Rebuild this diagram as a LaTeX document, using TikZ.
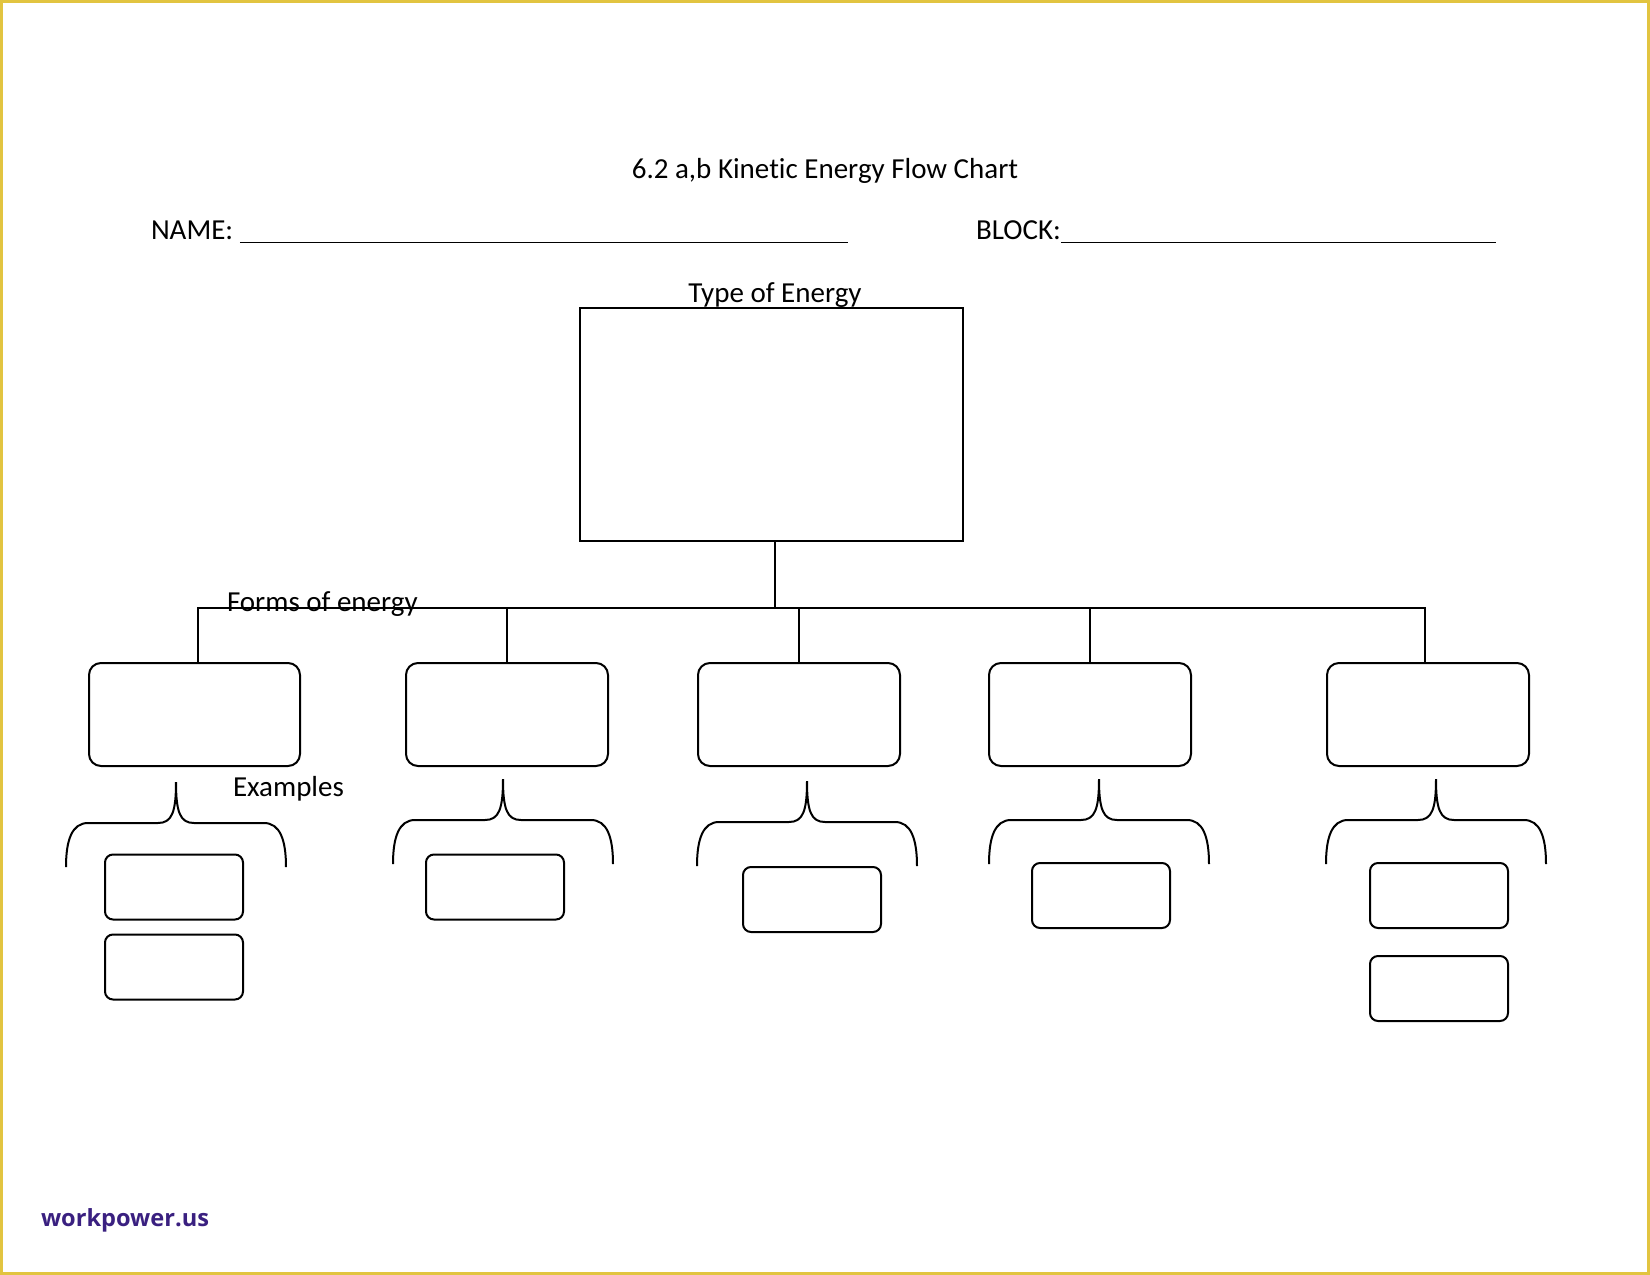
\documentclass[tikz,border=0pt]{standalone}
\usepackage{fontspec}
\setmainfont{Carlito}[Ligatures=NoCommon]
\newfontfamily\markfont{Open Sans}
\usetikzlibrary{positioning}
\definecolor{framegold}{RGB}{226, 196, 64}
\definecolor{markpurple}{RGB}{58, 32, 128}

\begin{document}
\begin{tikzpicture}[
    x=0.5pt, y=-0.5pt,
    line width=1pt,
    txt/.style={inner sep=0pt, font=\fontsize{14.5}{17}\selectfont},
    topbox/.style={rectangle, draw, line width=1.1pt, minimum width=191.5pt, minimum height=116.5pt},
    formbox/.style={rectangle, draw, rounded corners=6pt, minimum width=101pt, minimum height=51.5pt},
    exbox/.style={rectangle, draw, rounded corners=4pt, minimum width=69pt, minimum height=32.5pt},
    exbrace/.pic={
        \draw (-110,85) .. controls (-110,58) and (-104,41) .. (-88,41) -- (-18,41)
              .. controls (-4,41) and (0,30) .. (0,0)
              .. controls (0,30) and (4,41) .. (18,41) -- (88,41)
              .. controls (104,41) and (110,58) .. (110,85);
    },
]
    % page and frame
    \fill[white] (0,0) rectangle (1650,1275);
    \useasboundingbox (0,0) rectangle (1650,1275);
    \draw[framegold, line width=1.6pt] (1.6,1.6) rectangle (1648.4,1273.4);

    % heading
    \node[txt, anchor=base] (title) at (825,178) {6.2 a,b Kinetic Energy Flow Chart};
    \node[txt, anchor=base west] (name) at (150,239) {NAME: \rule[-2pt]{304pt}{0.6pt}};
    \node[txt, anchor=base west] (block) at (975,239) {BLOCK:\rule[-2pt]{217.5pt}{0.6pt}};

    % type of energy
    \node[topbox] (top) at (771.5,424.5) {};
    \node[txt, anchor=base] (toplabel) at (775,302) {Type of Energy};
    \coordinate (bus) at (775,608);

    % forms of energy
    \node[formbox, minimum width=105.5pt] (f1) at (194.5,714.5) {};
    \node[formbox] (f2) at (507,714.5) {};
    \node[formbox] (f3) at (799,714.5) {};
    \node[formbox] (f4) at (1090,714.5) {};
    \node[formbox] (f5) at (1428,714.5) {};

    \draw (top.south -| bus) -- (bus);
    \draw ([xshift=1.5pt]f1.north) |- (bus) -| ([xshift=-1.5pt]f5.north);
    \draw (f2.north) -- (f2.north |- bus);
    \draw (f3.north) -- (f3.north |- bus);
    \draw (f4.north) -- (f4.north |- bus);

    \node[txt, anchor=base west] (formslabel) at (226,611) {Forms of energy};

    % examples
    \pic at (176,782) {exbrace};
    \pic at (503,779) {exbrace};
    \pic at (807,781) {exbrace};
    \pic at (1099,779) {exbrace};
    \pic at (1436,779) {exbrace};

    \node[txt, anchor=base west] (exlabel) at (232,796) {Examples};

    \node[exbox] (e1a) at (174,887) {};
    \node[exbox, below=6.5pt of e1a] (e1b) {};
    \node[exbox] (e2) at (495,887) {};
    \node[exbox] (e3) at (812,899.5) {};
    \node[exbox] (e4) at (1101,895.5) {};
    \node[exbox] (e5a) at (1439,895.5) {};
    \node[exbox, below=13pt of e5a] (e5b) {};

    % watermark
    \node[inner sep=0pt, anchor=base west, text=markpurple, font=\markfont\bfseries\fontsize{11.8}{13}\selectfont] (mark) at (40,1226) {workpower.us};
\end{tikzpicture}
\end{document}
